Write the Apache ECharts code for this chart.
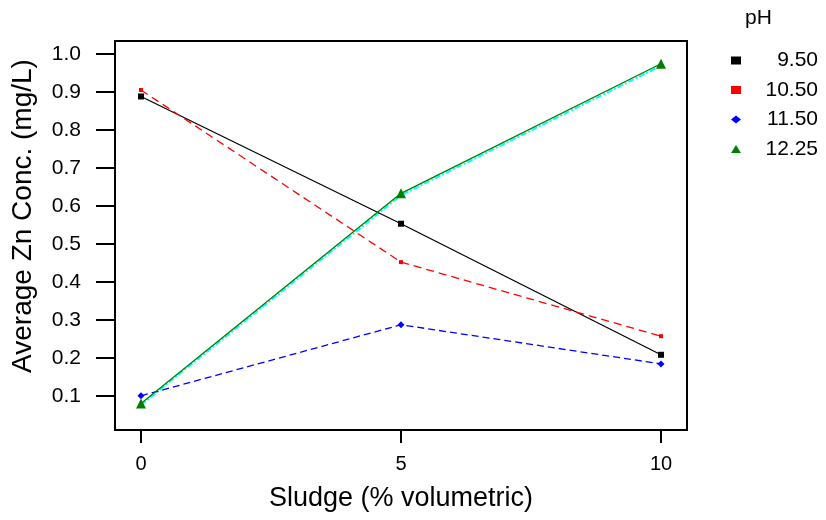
<!DOCTYPE html>
<html><head><meta charset="utf-8">
<script src="https://cdn.jsdelivr.net/npm/echarts@6/dist/echarts.min.js"></script>
<style>html,body{margin:0;padding:0;background:#fff}#c{width:826px;height:520px}</style>
</head><body><div id="c"></div>
<script>
const sludge = [0, 5, 10];
const phLabels = ['9.50', '10.50', '11.50', '12.25'];
const ph950 = [0.888, 0.553, 0.208];
const ph1050 = [0.905, 0.452, 0.257];
const ph1150 = [0.100, 0.287, 0.184];
const ph1225 = [0.080, 0.633, 0.974];
const fitCyan = [0.076, 0.628, 0.969];
const xTicks = [0, 5, 10];
const yTicks = [0.1, 0.2, 0.3, 0.4, 0.5, 0.6, 0.7, 0.8, 0.9, 1.0];
const xTitle = 'Sludge (% volumetric)';
const yTitle = 'Average Zn Conc. (mg/L)';
const legendTitle = 'pH';

const pairs = a => sludge.map((x, i) => [x, a[i]]);
const font = 'Liberation Sans, Arial, sans-serif';
const chart = echarts.init(document.getElementById('c'), null, {renderer: 'canvas'});
const mk = (name, data, color, symbol, size, type) => ({
  name, type: 'line', data: pairs(data), symbol, symbolSize: size,
  showSymbol: true, z: 3,
  lineStyle: {color, width: 1.3, type},
  itemStyle: {color}
});
chart.setOption({
  animation: false,
  grid: {left: 115, top: 41, right: 139, bottom: 90},
  xAxis: {
    type: 'value', min: -0.5, max: 10.5,
    name: xTitle, nameLocation: 'middle', nameGap: 55,
    nameTextStyle: {fontFamily: font, fontSize: 27, color: '#000'},
    axisLine: {show: true, onZero: false, lineStyle: {color: '#000', width: 2}},
    axisTick: {show: true, length: 13, lineStyle: {color: '#000', width: 2},
      customValues: xTicks},
    axisLabel: {fontFamily: font, fontSize: 20, color: '#000', margin: 24,
      customValues: xTicks, formatter: v => String(v)},
    splitLine: {show: false}
  },
  yAxis: {
    type: 'value', min: 0.01, max: 1.034,
    axisLine: {show: true, onZero: false, lineStyle: {color: '#000', width: 2}},
    axisTick: {show: true, length: 19, lineStyle: {color: '#000', width: 2},
      customValues: yTicks},
    axisLabel: {fontFamily: font, fontSize: 21, color: '#000', margin: 34,
      customValues: yTicks, formatter: v => v.toFixed(1)},
    splitLine: {show: false}
  },
  legend: {
    show: true, orient: 'vertical', left: 726, top: 45, itemGap: 8.5,
    itemWidth: 10, itemHeight: 8,
    data: [
      {name: phLabels[0], icon: 'rect', itemStyle: {color: '#000'}},
      {name: phLabels[1], icon: 'rect', itemStyle: {color: '#ff0000'}},
      {name: phLabels[2], icon: 'diamond', itemStyle: {color: '#0000ff'}},
      {name: phLabels[3], icon: 'triangle', itemStyle: {color: '#008000'}}
    ],
    formatter: n => '{a|' + n + '}',
    textStyle: {fontFamily: font, fontSize: 21, color: '#000',
      rich: {a: {width: 72, align: 'right', fontFamily: font, fontSize: 21, color: '#000'}}}
  },
  graphic: [
    {type: 'text', left: 745, top: 8, style: {text: legendTitle, font: '21px ' + font, fill: '#000'}},
    {type: 'text', x: 23, y: 216, rotation: Math.PI / 2,
      style: {text: yTitle, font: '28px ' + font, fill: '#000', align: 'center', verticalAlign: 'middle'}},
    {type: 'rect', shape: {x: 115, y: 41, width: 572, height: 389},
      style: {fill: 'none', stroke: '#000', lineWidth: 2}, z: 10, silent: true}
  ],
  series: [
    {name: 'fit', type: 'line', data: pairs(fitCyan), symbol: 'none', z: 2,
      lineStyle: {color: '#00ffff', width: 2, type: [6, 2, 2, 2]}},
    mk(phLabels[0], ph950, '#000000', 'rect', 6, 'solid'),
    mk(phLabels[1], ph1050, '#ff0000', 'rect', 4, [8, 5]),
    mk(phLabels[2], ph1150, '#0000ff', 'diamond', 7, [7, 4]),
    mk(phLabels[3], ph1225, '#008000', 'triangle', 10, 'solid')
  ]
});
</script></body></html>
